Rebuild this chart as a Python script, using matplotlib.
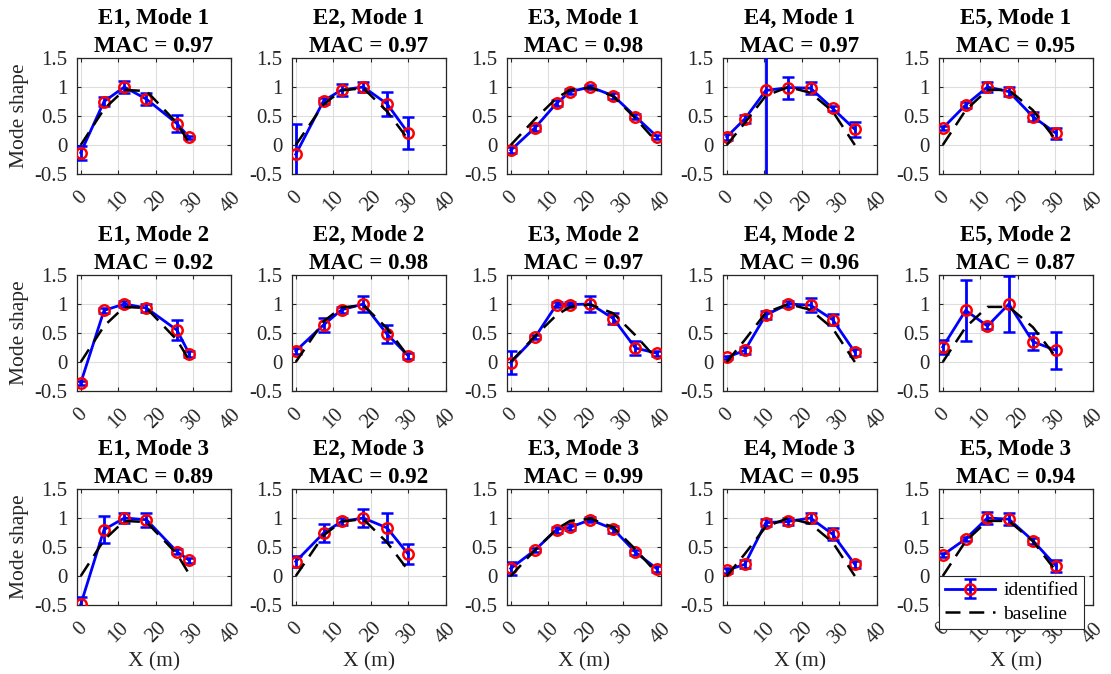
import matplotlib
matplotlib.use("Agg")
import matplotlib.pyplot as plt
import numpy as np

plt.rcParams['font.family'] = ['Liberation Serif', 'DejaVu Serif']

# ---------------- data ----------------
experiments = ["E1", "E2", "E3", "E4", "E5"]
modes = ["Mode 1", "Mode 2", "Mode 3"]
mac = [[0.97, 0.97, 0.98, 0.97, 0.95],
       [0.92, 0.98, 0.97, 0.96, 0.87],
       [0.89, 0.92, 0.99, 0.95, 0.94]]

x_E1 = [0, 6.2, 11.6, 17.5, 25.6, 28.9]
x_E2 = [0, 7.4, 12.2, 18.0, 24.3, 29.9]
x_E3 = [0, 6.5, 12.2, 15.8, 21.2, 27.3, 33.2, 39.0]
x_E4 = [0, 4.8, 10.4, 16.4, 22.3, 28.2, 34.1]
x_E5 = [0, 6.1, 11.9, 17.6, 24.0, 30.2]

base_E1 = [0, 0.62, 0.95, 0.93, 0.38, 0.03]
base_E2 = [0, 0.70, 0.94, 0.98, 0.58, 0.10]
base_E3 = [0, 0.45, 0.81, 0.95, 0.99, 0.84, 0.46, 0.04]
base_E4 = [0, 0.38, 0.85, 1.0, 0.90, 0.58, 0.0]
base_E5 = [0, 0.60, 0.95, 0.95, 0.60, 0.08]

id_E1_M1 = [-0.13, 0.75, 1.0, 0.79, 0.37, 0.13]
err_E1_M1 = [0.12, 0.08, 0.11, 0.10, 0.14, 0.03]
id_E1_M2 = [-0.36, 0.89, 1.0, 0.93, 0.55, 0.14]
err_E1_M2 = [0.03, 0.04, 0.06, 0.07, 0.17, 0.05]
id_E1_M3 = [-0.49, 0.80, 1.0, 0.97, 0.42, 0.27]
err_E1_M3 = [0.13, 0.23, 0.08, 0.12, 0.04, 0.04]

id_E2_M1 = [-0.16, 0.76, 0.95, 1.0, 0.71, 0.21]
err_E2_M1 = [0.53, 0.05, 0.11, 0.08, 0.21, 0.28]
id_E2_M2 = [0.19, 0.64, 0.90, 1.0, 0.48, 0.11]
err_E2_M2 = [0.06, 0.12, 0.05, 0.14, 0.16, 0.05]
id_E2_M3 = [0.25, 0.74, 0.94, 1.0, 0.83, 0.38]
err_E2_M3 = [0.09, 0.15, 0.06, 0.16, 0.25, 0.18]

id_E3_M1 = [-0.09, 0.30, 0.72, 0.92, 1.0, 0.85, 0.49, 0.14]
err_E3_M1 = [0.05, 0.05, 0.05, 0.04, 0.03, 0.05, 0.04, 0.03]
id_E3_M2 = [-0.01, 0.43, 0.99, 0.99, 1.0, 0.75, 0.24, 0.15]
err_E3_M2 = [0.20, 0.03, 0.05, 0.05, 0.13, 0.10, 0.12, 0.04]
id_E3_M3 = [0.13, 0.45, 0.80, 0.84, 0.97, 0.81, 0.41, 0.12]
err_E3_M3 = [0.12, 0.04, 0.05, 0.05, 0.04, 0.06, 0.04, 0.05]

id_E4_M1 = [0.14, 0.45, 0.94, 0.99, 0.98, 0.63, 0.27]
err_E4_M1 = [0.05, 0.07, 5.0, 0.19, 0.10, 0.05, 0.13]
id_E4_M2 = [0.08, 0.20, 0.81, 1.0, 0.98, 0.73, 0.17]
err_E4_M2 = [0.03, 0.06, 0.07, 0.06, 0.12, 0.09, 0.06]
id_E4_M3 = [0.10, 0.20, 0.92, 0.94, 1.0, 0.72, 0.20]
err_E4_M3 = [0.04, 0.07, 0.06, 0.06, 0.08, 0.10, 0.06]

id_E5_M1 = [0.29, 0.69, 1.0, 0.92, 0.49, 0.20]
err_E5_M1 = [0.03, 0.05, 0.08, 0.08, 0.08, 0.10]
id_E5_M2 = [0.26, 0.89, 0.62, 1.0, 0.35, 0.20]
err_E5_M2 = [0.12, 0.52, 0.05, 0.48, 0.15, 0.32]
id_E5_M3 = [0.36, 0.64, 1.0, 0.98, 0.61, 0.17]
err_E5_M3 = [0.04, 0.03, 0.10, 0.10, 0.05, 0.10]

x_ticks = [0, 10, 20, 30, 40]
y_ticks = [-0.5, 0, 0.5, 1, 1.5]
y_ticklabels = ["-0.5", "0", "0.5", "1", "1.5"]

xs = [x_E1, x_E2, x_E3, x_E4, x_E5]
bases = [base_E1, base_E2, base_E3, base_E4, base_E5]
ids = [[id_E1_M1, id_E2_M1, id_E3_M1, id_E4_M1, id_E5_M1],
       [id_E1_M2, id_E2_M2, id_E3_M2, id_E4_M2, id_E5_M2],
       [id_E1_M3, id_E2_M3, id_E3_M3, id_E4_M3, id_E5_M3]]
errs = [[err_E1_M1, err_E2_M1, err_E3_M1, err_E4_M1, err_E5_M1],
        [err_E1_M2, err_E2_M2, err_E3_M2, err_E4_M2, err_E5_M2],
        [err_E1_M3, err_E2_M3, err_E3_M3, err_E4_M3, err_E5_M3]]

# ---------------- layout ----------------
W, H = 1111, 674
fig = plt.figure(figsize=(W / 100, H / 100), dpi=100)
lefts = [77, 292, 507, 723, 939]
tops = [58, 275, 489]
aw, ah = 154, 116
axcol = '#262626'

for r in range(3):
    for c in range(5):
        ax = fig.add_axes([lefts[c] / W, 1 - (tops[r] + ah) / H, aw / W, ah / H])
        h1 = ax.errorbar(xs[c], ids[r][c], yerr=errs[r][c], color='#0000ff', lw=2,
                         marker='o', ms=7.5, mfc='none', mec='#ff0000', mew=1.8,
                         ecolor='#0000ff', elinewidth=2, capsize=4.5, capthick=2,
                         label='identified', zorder=3)
        h2, = ax.plot(xs[c], bases[c], color='black', lw=1.8, ls=(0, (6, 3.5)),
                      label='baseline', zorder=4)
        ax.set_xlim(-1, 40)
        ax.set_ylim(-0.5, 1.5)
        ax.set_xticks(x_ticks)
        ax.set_yticks(y_ticks)
        ax.set_yticklabels(y_ticklabels)
        ax.grid(True, color='#dedede', lw=0.8)
        ax.set_axisbelow(True)
        ax.tick_params(direction='in', length=3, width=0.8, colors=axcol,
                       labelsize=15, top=True, right=True)
        ax.tick_params(axis='x', pad=10)
        ax.tick_params(axis='y', pad=7)
        for lab in ax.get_xticklabels():
            lab.set_rotation(45)
            lab.set_ha('center')
        for s in ax.spines.values():
            s.set_color(axcol)
            s.set_linewidth(0.9)
        ax.set_title(f"{experiments[c]}, {modes[r]}\nMAC = {mac[r][c]:.2f}",
                     fontsize=16.5, fontweight='bold', pad=4, linespacing=1.45)
        if c == 0:
            ax.set_ylabel("Mode shape", fontsize=15.5, color=axcol, labelpad=4)
        if r == 2:
            ax.set_xlabel("X (m)", fontsize=15.5, color=axcol, labelpad=4)
        if r == 2 and c == 4:
            leg = ax.legend(handles=[h1, h2], loc='upper left',
                            bbox_to_anchor=(0.0, 0.25), fontsize=14,
                            frameon=True, fancybox=False, edgecolor=axcol,
                            framealpha=1, borderpad=0.3, handlelength=2.6,
                            handletextpad=0.4, labelspacing=0.3, borderaxespad=0)
            leg.get_frame().set_linewidth(0.8)
            leg.set_zorder(10)

fig.savefig("out.png", dpi=100)
